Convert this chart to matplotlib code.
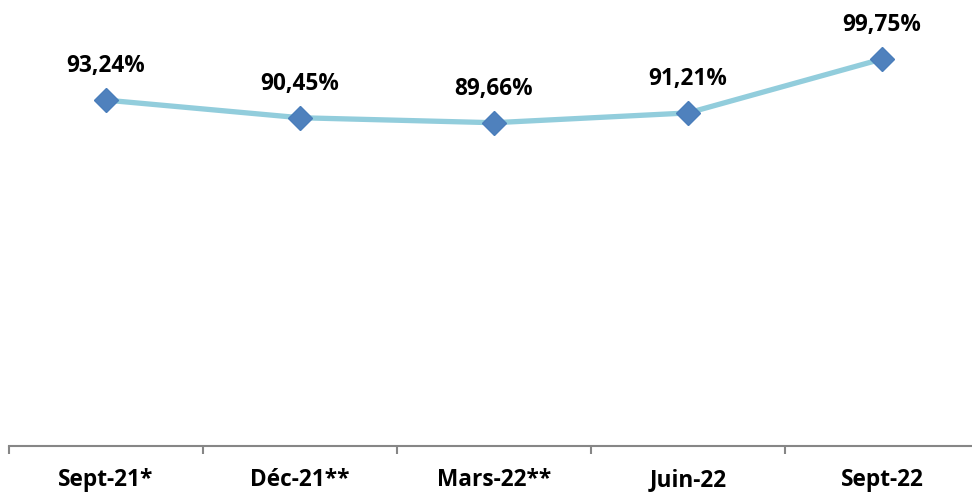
import matplotlib
matplotlib.use("Agg")
import matplotlib.pyplot as plt

categories = ["Sept-21*", "Déc-21**", "Mars-22**", "Juin-22", "Sept-22"]
values = [93.24, 90.45, 89.66, 91.21, 99.75]
labels = ["93,24%", "90,45%", "89,66%", "91,21%", "99,75%"]

plt.rcParams['font.family'] = ['Open Sans', 'DejaVu Sans']

fig = plt.figure(figsize=(9.72, 4.96), dpi=100)
ax = fig.add_axes([9/972, 1 - 446/496, 970/972, 446/496])

x = list(range(len(values)))
ax.plot(x, values, color="#92CDDC", linewidth=3.8, zorder=2)
ax.plot(x, values, linestyle="none", marker="D", markersize=12,
        color="#4F81BD", markeredgecolor="#4A7EBB", zorder=3)

for xi, v, lab in zip(x, values, labels):
    ax.annotate(lab, (xi, v), xytext=(0, 20), textcoords="offset points",
                ha="center", va="baseline", fontsize=16.3, fontweight="bold",
                color="black")

ax.set_xlim(-0.5, 4.5)
ax.set_ylim(38.45, 109.1)

# only the bottom axis line, ticks between categories
for s in ["top", "right", "left"]:
    ax.spines[s].set_visible(False)
ax.spines["bottom"].set_color("#868686")
ax.spines["bottom"].set_linewidth(1.5)
ax.set_yticks([])
ax.set_xticks([i - 0.5 for i in range(len(values))] + [4.5])
ax.set_xticklabels([])
ax.set_xticks(x, minor=True)
ax.set_xticklabels(categories, minor=True, fontsize=16.3, fontweight="bold")
ax.tick_params(axis="x", which="major", length=6, width=1.5, color="#868686")
ax.tick_params(axis="x", which="minor", length=0, pad=16)

fig.savefig("out.png", dpi=100)
